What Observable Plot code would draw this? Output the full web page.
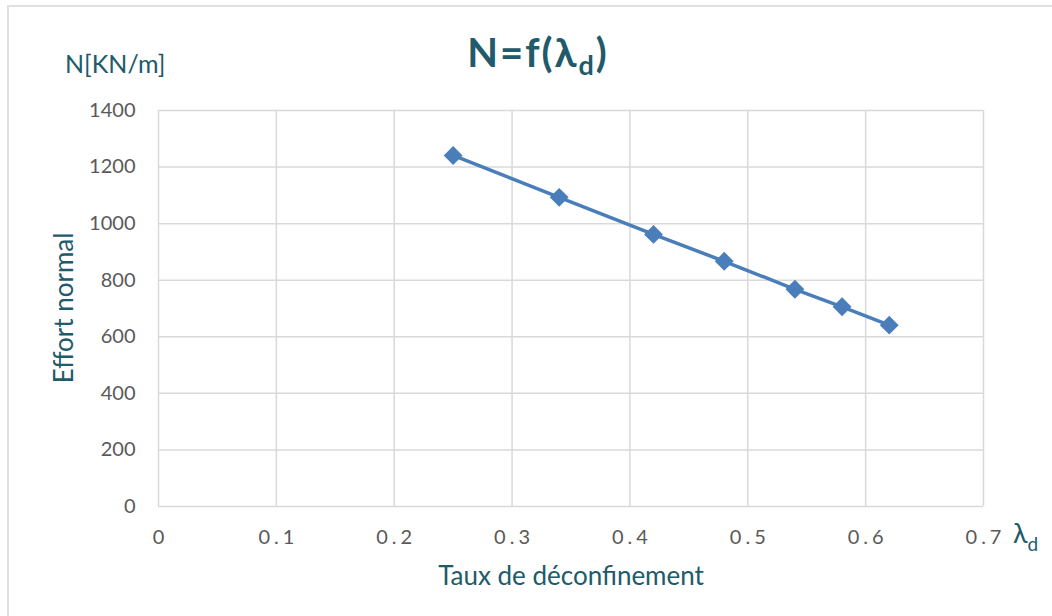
<!DOCTYPE html>
<html>
<head>
<meta charset="utf-8">
<script src="https://cdn.jsdelivr.net/npm/d3@7"></script>
<script src="https://cdn.jsdelivr.net/npm/@observablehq/plot@0.6"></script>
<style>
  html, body { margin: 0; padding: 0; background: #fff; overflow: hidden; }
  #frame { position: absolute; left: 7px; top: 5px; width: 1200px; height: 800px; border: 2px solid #e0e0e0; box-sizing: border-box; }
  #chart { position: absolute; left: 0; top: 0; }
</style>
</head>
<body>
<div id="frame"></div>
<div id="chart"></div>
<script>
const taux = [0.25, 0.34, 0.42, 0.48, 0.54, 0.58, 0.62];
const effort = [1241, 1093, 962, 867, 768, 706, 641];
const xTicks = [0, 0.1, 0.2, 0.3, 0.4, 0.5, 0.6, 0.7];
const yTicks = [0, 200, 400, 600, 800, 1000, 1200, 1400];
const xTickLabels = ["0", "0.1", "0.2", "0.3", "0.4", "0.5", "0.6", "0.7"];

const titleMain = "N=f(λ";
const titleSub = "d";
const titleEnd = ")";
const yUnit = "N[KN/m]";
const yLabel = "Effort normal";
const xLabel = "Taux de déconfinement";
const xSymbol = "λ";
const xSymbolSub = "d";

const data = taux.map((t, i) => ({ x: t, y: effort[i] }));

const teal = "#215a6a";
const blue = "#4a7ebb";
const grid = "#d9d9d9";
const font = "Lato, 'Open Sans', sans-serif";

const chart = Plot.plot({
  width: 1052,
  height: 616,
  marginLeft: 158,
  marginRight: 69,
  marginTop: 110,
  marginBottom: 110,
  style: { fontFamily: font, background: "transparent", overflow: "visible" },
  x: { domain: [0, 0.7] },
  y: { domain: [0, 1400] },
  marks: [
    Plot.gridX(xTicks, { stroke: grid, strokeOpacity: 1, strokeWidth: 1.5 }),
    Plot.gridY(yTicks, { stroke: grid, strokeOpacity: 1, strokeWidth: 1.5 }),
    Plot.axisX(xTicks, {
      tickSize: 0, tickPadding: 23, fontSize: 20, fill: "#595959", label: null,
      tickFormat: (d) => xTickLabels[xTicks.indexOf(d)]
    }),
    Plot.axisY(yTicks, {
      tickSize: 0, tickPadding: 23, fontSize: 20, fill: "#595959", label: null,
      tickFormat: d3.format("d")
    }),
    Plot.line(data, { x: "x", y: "y", stroke: blue, strokeWidth: 3.5 }),
    Plot.dot(data, { x: "x", y: "y", symbol: "diamond2", fill: blue, r: 8.5 })
  ]
});

document.getElementById("chart").appendChild(chart);

const svg = d3.select(chart);
svg.selectAll('[aria-label="x-axis tick label"] text')
  .attr("letter-spacing", 4)
  .attr("dx", 2);

// Title
const title = svg.append("text")
  .attr("x", 538).attr("y", 67)
  .attr("text-anchor", "middle")
  .attr("font-family", font)
  .attr("font-weight", "bold")
  .attr("font-size", 40)
  .attr("letter-spacing", 2)
  .attr("fill", teal);
title.append("tspan").text(titleMain);
title.append("tspan").attr("font-size", 27).attr("dy", 8).text(titleSub);
title.append("tspan").attr("dy", -8).text(titleEnd);

// Y unit label
svg.append("text")
  .attr("x", 65).attr("y", 73)
  .attr("text-anchor", "start")
  .attr("font-family", font).attr("font-size", 25).attr("fill", teal)
  .text(yUnit);

// Y axis label
svg.append("text")
  .attr("transform", "translate(73,308) rotate(-90)")
  .attr("text-anchor", "middle")
  .attr("font-family", font).attr("font-size", 26).attr("fill", teal)
  .text(yLabel);

// X axis label
svg.append("text")
  .attr("x", 571).attr("y", 585)
  .attr("text-anchor", "middle")
  .attr("font-family", font).attr("font-size", 26).attr("fill", teal)
  .text(xLabel);

// X symbol
const xs = svg.append("text")
  .attr("x", 1013).attr("y", 543)
  .attr("text-anchor", "start")
  .attr("font-family", font).attr("font-size", 27).attr("fill", teal);
xs.append("tspan").text(xSymbol);
xs.append("tspan").attr("font-size", 19).attr("dy", 8).text(xSymbolSub);
</script>
</body>
</html>
